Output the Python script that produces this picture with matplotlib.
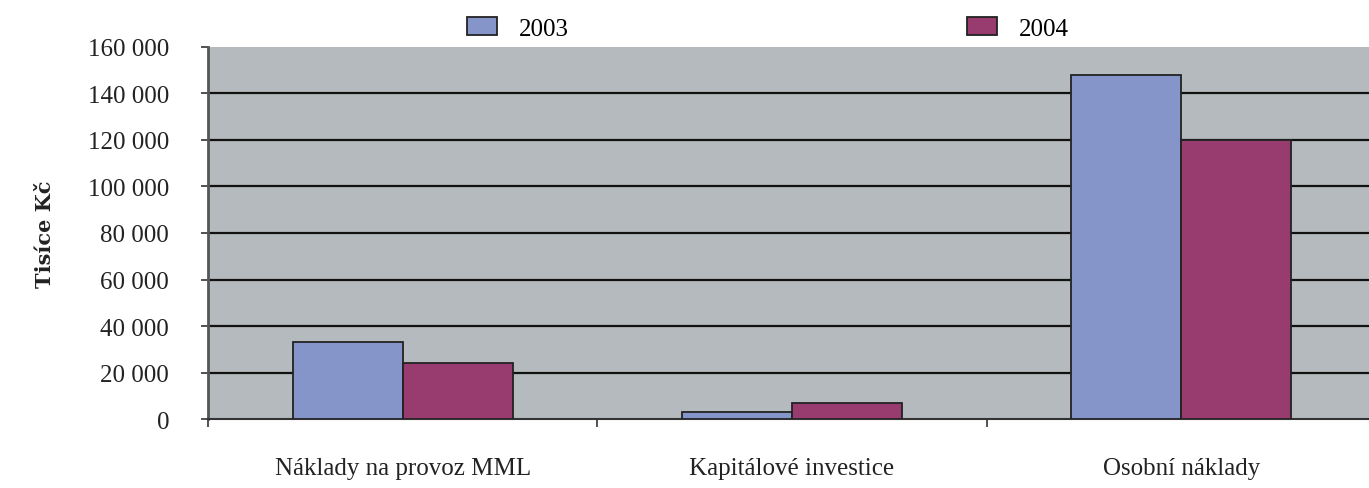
import numpy as np
import matplotlib.pyplot as plt
from matplotlib.ticker import FuncFormatter, FixedLocator

kategorie = ['Náklady na provoz MML', 'Kapitálové investice', 'Osobní náklady']
roky = ['2003', '2004']
hodnoty_2003 = [33000, 3000, 148000]
hodnoty_2004 = [24000, 7000, 120000]

barvy = ['#8594c9', '#983b6e']
pozadi = '#b4babd'
font = 'Liberation Serif'

fig = plt.figure(figsize=(13.69, 4.89), dpi=100)
ax = fig.add_axes([0.152, 0.141, 0.853, 0.761])
ax.set_facecolor(pozadi)

x = np.arange(len(kategorie))
w = 0.283
b1 = ax.bar(x - w / 2, hodnoty_2003, w, color=barvy[0], edgecolor='#222222', linewidth=1.3, label=roky[0], zorder=3)
b2 = ax.bar(x + w / 2, hodnoty_2004, w, color=barvy[1], edgecolor='#222222', linewidth=1.3, label=roky[1], zorder=3)

ax.set_xlim(-0.5, 2.5)
ax.set_ylim(0, 160000)
ax.set_yticks(np.arange(0, 160001, 20000))
ax.yaxis.set_major_formatter(FuncFormatter(lambda v, p: f'{int(v):,}'.replace(',', ' ')))
for yv in np.arange(20000, 160000, 20000):
    ax.axhline(yv, color='#111111', lw=1.6, zorder=1)

ax.xaxis.set_major_locator(FixedLocator([-0.5, 0.5, 1.5]))
ax.xaxis.set_major_formatter(FuncFormatter(lambda v, p: ''))
ax.xaxis.set_minor_locator(FixedLocator(x))
ax.set_xticklabels(kategorie, minor=True)
ax.tick_params(axis='x', which='minor', length=0, pad=27, labelsize=18)
ax.tick_params(axis='x', which='major', length=6, width=1.2, color='#333333')
ax.tick_params(axis='y', length=5, width=1.2, color='#333333', labelsize=18, pad=23)
for lab in ax.get_xticklabels(minor=True) + ax.get_yticklabels():
    lab.set_family(font)
    lab.set_color('#222222')

for s in ['top', 'right']:
    ax.spines[s].set_visible(False)
ax.spines['left'].set_color('#555555')
ax.spines['left'].set_linewidth(2)
ax.spines['bottom'].set_color('#333333')
ax.spines['bottom'].set_linewidth(1.5)

fig.text(0.033, 0.52, 'Tisíce Kč', rotation=90, ha='center', va='center',
         fontsize=15, fontweight='bold', family='DejaVu Serif', color='#222222')

leg = fig.legend(handles=[b1, b2], labels=roky, loc='center', bbox_to_anchor=(0.561, 0.94),
                 ncol=2, frameon=False, columnspacing=15.9, handlelength=1.2, handleheight=0.7,
                 handletextpad=0.9, prop={'family': font, 'size': 18})

fig.savefig('out.png', dpi=100)
